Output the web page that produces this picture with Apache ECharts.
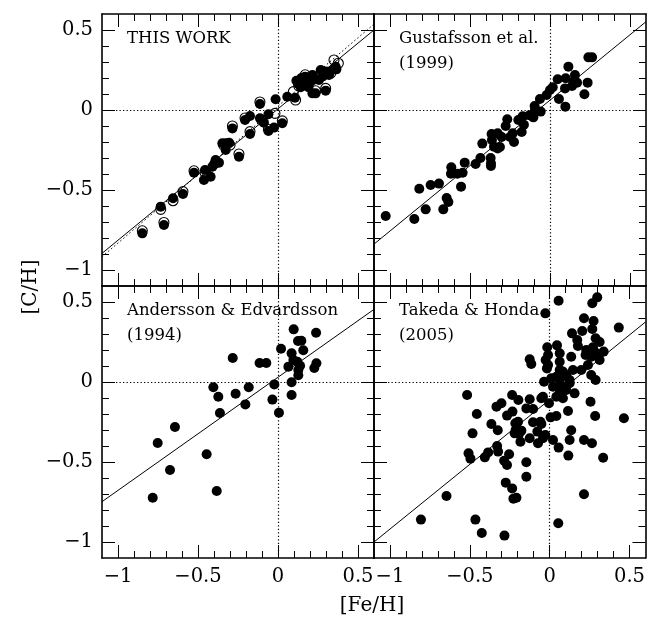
<!DOCTYPE html>
<html><head><meta charset="utf-8">
<script src="https://cdn.jsdelivr.net/npm/echarts@6/dist/echarts.min.js"></script>
<style>html,body{margin:0;padding:0;background:#fff}#c{width:648px;height:626px}</style>
</head><body><div id="c"></div>
<script>
// ---- data: [Fe/H], [C/H] ----
const thisWorkFilled = [
[-0.848,-0.771],[-0.713,-0.719],[-0.733,-0.604],[-0.656,-0.552],[-0.594,-0.525],[-0.525,-0.392],
[-0.456,-0.375],[-0.463,-0.438],[-0.421,-0.417],[-0.41,-0.354],[-0.40,-0.34],[-0.39,-0.313],
[-0.369,-0.329],[-0.348,-0.208],[-0.327,-0.208],[-0.306,-0.204],[-0.327,-0.25],[-0.285,-0.115],
[-0.244,-0.292],[-0.206,-0.063],[-0.175,-0.038],[-0.175,-0.15],[-0.113,0.038],[-0.113,-0.052],
[-0.088,-0.079],[-0.06,-0.027],[-0.06,-0.131],[-0.025,-0.11],[-0.015,0.067],[0.027,-0.083],
[0.058,0.083],[0.106,0.077],[0.115,0.183],[0.127,0.163],[0.142,0.142],[0.146,0.2],[0.169,0.208],
[0.194,0.204],[0.215,0.219],[0.183,0.177],[0.19,0.142],[0.2,0.17],[0.215,0.104],[0.235,0.104],
[0.225,0.19],[0.256,0.188],[0.267,0.25],[0.28,0.21],[0.298,0.121],[0.3,0.24],[0.319,0.219],
[0.34,0.25],[0.365,0.254],[0.36,0.27]
];
const thisWorkOpen = [
[-0.848,-0.755],[-0.713,-0.703],[-0.733,-0.621],[-0.656,-0.567],[-0.594,-0.51],[-0.525,-0.38],
[-0.456,-0.39],[-0.44,-0.41],[-0.39,-0.33],[-0.34,-0.22],[-0.30,-0.22],[-0.285,-0.1],[-0.244,-0.275],
[-0.206,-0.05],[-0.175,-0.135],[-0.113,0.05],[-0.1,-0.065],[-0.06,-0.12],[-0.019,-0.021],
[0.027,-0.068],[0.11,0.0625],[0.096,0.115],[0.13,0.15],[0.2,0.19],[0.235,0.12],[0.298,0.135],
[0.35,0.3125],[0.377,0.292],[0.33,0.23],[0.27,0.24],[0.17,0.22]
];
const gustafsson = [
[-1.027,-0.663],[-0.848,-0.681],[-0.817,-0.492],[-0.777,-0.621],[-0.746,-0.469],[-0.694,-0.46],
[-0.667,-0.621],[-0.646,-0.55],[-0.635,-0.575],[-0.617,-0.358],[-0.619,-0.398],[-0.579,-0.398],
[-0.546,-0.392],[-0.556,-0.479],[-0.533,-0.329],[-0.465,-0.338],[-0.435,-0.3],[-0.423,-0.21],
[-0.371,-0.3],[-0.369,-0.333],[-0.369,-0.35],[-0.365,-0.15],[-0.363,-0.188],[-0.35,-0.229],
[-0.327,-0.24],[-0.313,-0.231],[-0.327,-0.146],[-0.302,-0.169],[-0.25,-0.169],[-0.233,-0.146],
[-0.225,-0.2],[-0.277,-0.1],[-0.267,-0.058],[-0.198,-0.063],[-0.171,-0.039],[-0.163,-0.092],
[-0.177,-0.138],[-0.129,-0.033],[-0.104,-0.046],[-0.096,0.025],[-0.094,0.0],[-0.063,0.069],
[-0.058,-0.01],[-0.021,0.094],[0.0,0.125],[0.017,0.142],[0.048,0.192],[0.056,0.069],[0.096,0.021],
[0.098,0.198],[0.115,0.271],[0.094,0.135],[0.138,0.15],[0.146,0.177],[0.156,0.219],[0.169,0.171],
[0.215,0.098],[0.235,0.171],[0.24,0.329],[0.263,0.329]
];
const andersson = [
[0.098,0.329],[0.238,0.308],[0.125,0.256],[0.146,0.258],[0.019,0.208],[0.085,0.179],[0.158,0.198],
[-0.283,0.15],[-0.115,0.119],[-0.073,0.119],[0.096,0.138],[0.121,0.127],[0.065,0.096],[0.138,0.102],
[0.24,0.117],[0.227,0.088],[0.127,0.075],[0.127,0.042],[-0.404,-0.033],[-0.023,-0.015],[0.085,-0.002],
[-0.183,-0.033],[-0.373,-0.092],[-0.265,-0.073],[0.085,-0.081],[-0.204,-0.14],[-0.035,-0.11],
[-0.363,-0.194],[0.006,-0.192],[-0.644,-0.281],[-0.752,-0.381],[-0.446,-0.452],[-0.675,-0.55],
[-0.383,-0.681],[-0.783,-0.723]
];
const takeda = [
[0.298,0.529],[0.267,0.492],[0.056,0.508],[-0.027,0.429],[0.215,0.398],[0.275,0.381],[0.433,0.340],
[0.140,0.304],[0.204,0.319],[0.267,0.331],[0.173,0.263],[0.177,0.225],[0.288,0.273],[0.313,0.250],
[-0.015,0.217],[0.046,0.229],[0.229,0.2],[0.271,0.217],[0.281,0.19],[0.338,0.19],[0.225,0.169],
[0.26,0.158],[0.302,0.169],[-0.010,0.169],[0.063,0.179],[0.135,0.158],[-0.125,0.142],[-0.115,0.113],
[-0.025,0.138],[-0.010,0.106],[0.063,0.127],[0.240,0.106],[0.313,0.138],[-0.017,0.085],[0.063,0.075],
[0.083,0.065],[0.146,0.075],[0.198,0.075],[0.042,0.033],[0.104,0.044],[0.260,0.044],[0.288,0.013],
[-0.035,0.002],[0.010,0.023],[0.063,0.013],[0.088,0.038],[0.125,0.013],[0.021,-0.029],[0.063,-0.033],
[0.094,-0.029],[0.125,-0.008],[0.104,-0.05],[0.156,-0.071],[0.063,-0.071],[0.042,-0.092],[0.083,-0.102],
[-0.517,-0.081],[-0.235,-0.081],[-0.196,-0.113],[-0.125,-0.108],[-0.146,-0.165],[-0.104,-0.169],
[-0.052,-0.102],[-0.004,-0.133],[-0.042,-0.092],[-0.333,-0.154],[-0.302,-0.133],[0.256,-0.123],
[0.285,-0.213],[0.465,-0.227],[0.115,-0.181],[-0.456,-0.2],[-0.267,-0.21],[-0.233,-0.185],
[0.006,-0.221],[0.042,-0.213],[-0.365,-0.263],[-0.215,-0.258],[-0.198,-0.248],[-0.104,-0.252],
[-0.058,-0.248],[-0.052,-0.263],[-0.325,-0.302],[-0.213,-0.300],[-0.177,-0.304],[-0.192,-0.325],
[-0.219,-0.321],[-0.483,-0.321],[-0.077,-0.310],[0.135,-0.302],[-0.027,-0.331],[-0.042,-0.352],
[-0.073,-0.383],[-0.183,-0.373],[-0.125,-0.352],[0.021,-0.363],[0.125,-0.363],[0.215,-0.363],
[0.265,-0.383],[-0.329,-0.4],[-0.323,-0.435],[0.056,-0.410],[-0.385,-0.44],[-0.406,-0.471],
[-0.508,-0.446],[-0.496,-0.479],[-0.254,-0.452],[0.117,-0.460],[0.335,-0.473],[-0.285,-0.492],
[-0.267,-0.519],[-0.146,-0.502],[-0.146,-0.592],[-0.275,-0.629],[-0.235,-0.665],[-0.227,-0.729],
[-0.208,-0.723],[-0.646,-0.713],[0.215,-0.702],[-0.806,-0.860],[-0.465,-0.860],[-0.425,-0.944],
[-0.283,-0.960],[0.054,-0.883]
];
// fitted lines, endpoints at panel edges
const fitThisWork = [[-1.1,-0.896],[0.6,0.5]];
const fitThisWorkDotted = [[-1.1,-0.917],[0.6,0.537]];
const fitGustafsson = [[-1.1,-0.838],[0.6,0.552]];
const fitAndersson = [[-1.1,-0.748],[0.6,0.454]];
const fitTakeda = [[-1.1,-1.0],[0.6,0.375]];
// axes
const axisMin = -1.1, axisMax = 0.6;
const majorTicks = [-1, -0.5, 0, 0.5];
const tickLabels = ['−1', '−0.5', '0', '0.5'];
const minorTicks = [-0.9,-0.8,-0.7,-0.6,-0.4,-0.3,-0.2,-0.1,0.1,0.2,0.3,0.4];
const panelTitles = [['THIS WORK'], ['Gustafsson et al.', '(1999)'], ['Andersson & Edvardsson', '(1994)'], ['Takeda & Honda', '(2005)']];
const xTitle = '[Fe/H]', yTitle = '[C/H]';

const FONT = 'DejaVu Serif';
const grids = [
  {left:102, top:14, width:272, height:272},
  {left:374, top:14, width:272, height:272},
  {left:102, top:286, width:272, height:272},
  {left:374, top:286, width:272, height:272}
];
function fmt(v){ const i = majorTicks.findIndex(t => Math.abs(t - v) < 1e-9); return i >= 0 ? tickLabels[i] : ''; }
function axisDef(gridIndex, position, ticks, len, labels, line){
  return {
    type:'value', gridIndex, position, min:axisMin, max:axisMax,
    axisLine:{show:line, onZero:false, lineStyle:{color:'#000', width:1.6}},
    axisTick:{show:true, inside:true, length:len, customValues:ticks, lineStyle:{color:'#000', width:1}},
    minorTick:{show:false},
    axisLabel:{show:labels, customValues:majorTicks, formatter:fmt, color:'#000', fontFamily:FONT, fontSize:19.5, margin:9},
    splitLine:{show:false}
  };
}
const xAxes = [], yAxes = [];
grids.forEach((g, i) => {
  const showX = i >= 2, showY = i % 2 === 0;
  xAxes.push(axisDef(i, 'bottom', minorTicks, 7, showX, true));
  xAxes.push(axisDef(i, 'bottom', majorTicks, 13, false, false));
  xAxes.push(axisDef(i, 'top', minorTicks, 7, false, true));
  xAxes.push(axisDef(i, 'top', majorTicks, 13, false, false));
  yAxes.push(axisDef(i, 'left', minorTicks, 7, showY, true));
  yAxes.push(axisDef(i, 'left', majorTicks, 13, false, false));
  yAxes.push(axisDef(i, 'right', minorTicks, 7, false, true));
  yAxes.push(axisDef(i, 'right', majorTicks, 13, false, false));
});
const zeroLines = {
  silent:true, symbol:'none', label:{show:false}, animation:false,
  lineStyle:{color:'#000', width:1.2, type:[1.3,2.2], opacity:1},
  data:[{xAxis:0},{yAxis:0}]
};
function lineSeries(i, data, dotted, withZero){
  const s = {type:'line', xAxisIndex:4*i, yAxisIndex:4*i, data, symbol:'none', silent:true, z:3,
    lineStyle:{color:'#000', width:1, opacity:1, type: dotted ? [1.5,2.5] : 'solid'}};
  if (withZero) s.markLine = zeroLines;
  return s;
}
function dots(i, data){
  return {type:'scatter', xAxisIndex:4*i, yAxisIndex:4*i, data, symbol:'circle', symbolSize:10, z:4, silent:true,
    itemStyle:{color:'#000', opacity:1}};
}
const series = [
  lineSeries(0, fitThisWork, false, true),
  lineSeries(0, fitThisWorkDotted, true, false),
  {type:'scatter', xAxisIndex:0, yAxisIndex:0, data:thisWorkOpen, symbol:'circle', symbolSize:10, z:4, silent:true,
   itemStyle:{color:'rgba(255,255,255,0)', borderColor:'#000', borderWidth:1.1, opacity:1}},
  dots(0, thisWorkFilled),
  lineSeries(1, fitGustafsson, false, true), dots(1, gustafsson),
  lineSeries(2, fitAndersson, false, true), dots(2, andersson),
  lineSeries(3, fitTakeda, false, true), dots(3, takeda)
];
const titlePos = [[127,39],[399,39],[127,311],[399,311]];
const graphic = [];
panelTitles.forEach((lines, i) => {
  lines.forEach((t, k) => graphic.push({type:'text', x:titlePos[i][0], y:titlePos[i][1] + 25*k, z:10,
    style:{text:t, font:'16.5px "' + FONT + '"', fill:'#000', align:'left', verticalAlign:'middle'}}));
});
graphic.push({type:'text', x:372, y:606, style:{text:xTitle, font:'20px "' + FONT + '"', fill:'#000', align:'center', verticalAlign:'middle'}});
graphic.push({type:'text', x:31, y:287, rotation:Math.PI/2, style:{text:yTitle, font:'20px "' + FONT + '"', fill:'#000', align:'center', verticalAlign:'middle'}});

const chart = echarts.init(document.getElementById('c'), null, {renderer:'canvas'});
chart.setOption({animation:false, grid:grids, xAxis:xAxes, yAxis:yAxes, series, graphic});
</script></body></html>
